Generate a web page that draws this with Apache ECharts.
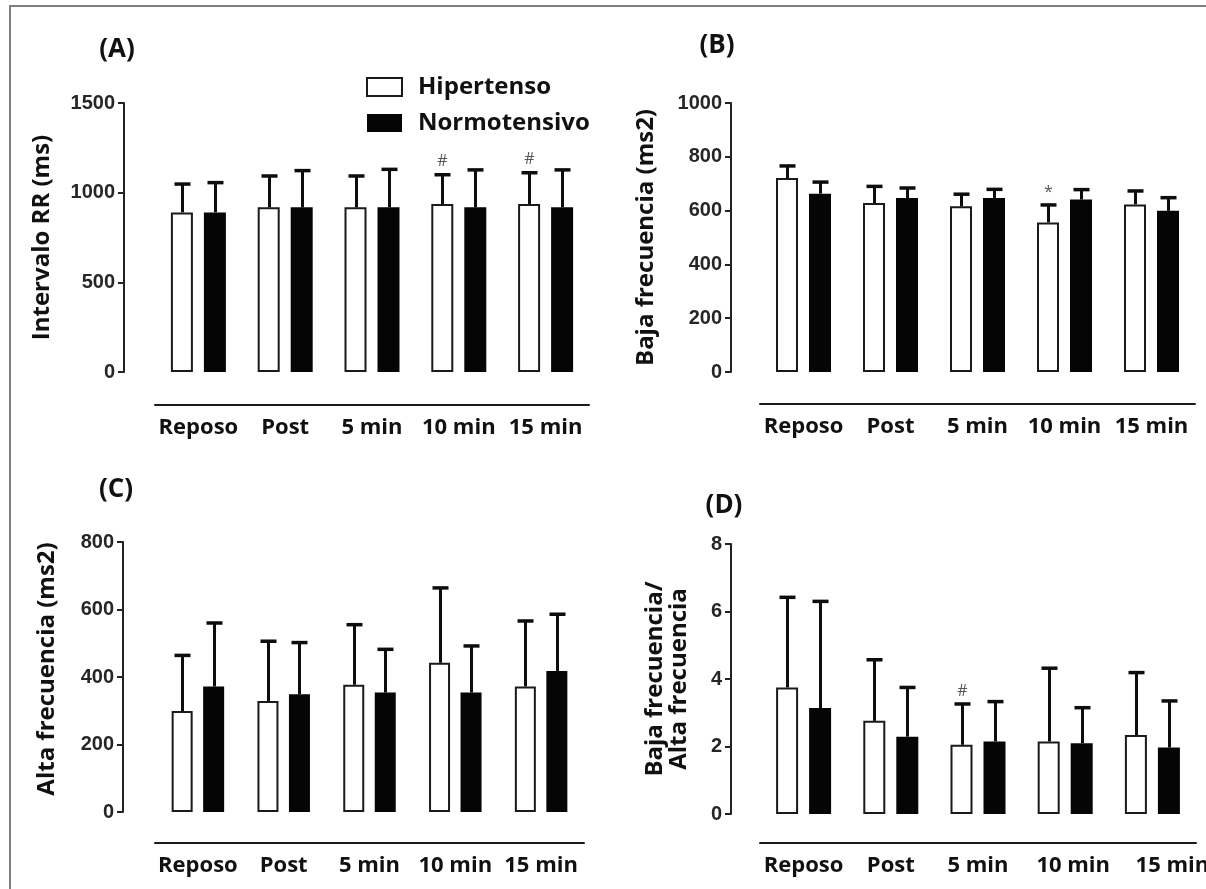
<!DOCTYPE html>
<html>
<head>
<meta charset="utf-8">
<title>Variabilidad de la frecuencia cardiaca</title>
<script src="https://cdn.jsdelivr.net/npm/echarts@6/dist/echarts.min.js"></script>
<style>
  html, body { margin: 0; padding: 0; background: #ffffff; }
  #chart { width: 1206px; height: 889px; }
</style>
</head>
<body>
<div id="chart"></div>
<script>
// Time points and groups
const categories = ['Reposo', 'Post', '5 min', '10 min', '15 min'];
const groupNames = ['Hipertenso', 'Normotensivo'];

// (A) Intervalo RR (ms): means and upper SD
const rrHip = [890, 918, 918, 937, 937];
const rrHipSd = [158, 175, 175, 163, 174];
const rrNorm = [890, 918, 918, 918, 918];
const rrNormSd = [166, 205, 212, 209, 209];
const rrHipMarks = ['', '', '', '#', '#'];

// (B) Baja frecuencia (ms2)
const lfHip = [721, 628, 616, 556, 623];
const lfHipSd = [45, 62, 45, 65, 50];
const lfNorm = [663, 647, 647, 641, 599];
const lfNormSd = [43, 37, 32, 37, 49];
const lfHipMarks = ['', '', '', '*', ''];

// (C) Alta frecuencia (ms2)
const hfHip = [299, 329, 377, 442, 372];
const hfHipSd = [165, 177, 178, 222, 194];
const hfNorm = [372, 349, 354, 354, 418];
const hfNormSd = [188, 153, 128, 138, 168];

// (D) Baja frecuencia / Alta frecuencia
const ratioHip = [3.75, 2.76, 2.05, 2.15, 2.34];
const ratioHipSd = [2.67, 1.81, 1.21, 2.17, 1.85];
const ratioNorm = [3.14, 2.29, 2.15, 2.10, 1.97];
const ratioNormSd = [3.16, 1.46, 1.18, 1.05, 1.38];
const ratioHipMarks = ['', '', '#', '', ''];

// Y axis scales
const yMax = [1500, 1000, 800, 8];
const yStep = [500, 200, 200, 2];
const yNames = ['Intervalo RR (ms)', 'Baja frecuencia (ms2)', 'Alta frecuencia (ms2)', 'Baja frecuencia/\nAlta frecuencia'];
const panelTags = ['(A)', '(B)', '(C)', '(D)'];

const panels = [
  { hip: rrHip, hipSd: rrHipSd, norm: rrNorm, normSd: rrNormSd, marks: rrHipMarks },
  { hip: lfHip, hipSd: lfHipSd, norm: lfNorm, normSd: lfNormSd, marks: lfHipMarks },
  { hip: hfHip, hipSd: hfHipSd, norm: hfNorm, normSd: hfNormSd, marks: null },
  { hip: ratioHip, hipSd: ratioHipSd, norm: ratioNorm, normSd: ratioNormSd, marks: ratioHipMarks }
];

// Layout of the four plots (GraphPad-style detached axes)
const layout = [
  { left: 155, top: 103, width: 434, height: 269, yOff: 31, xOff: 33, nameGap: 70, namePad: [0, 0, 0, 0], barW: 22, tag: [117, 50], shiftLabels: false },
  { left: 760, top: 103, width: 435, height: 269, yOff: 29, xOff: 32, nameGap: 73, namePad: [0, 0, 0, 0], barW: 22, tag: [717, 46], shiftLabels: false },
  { left: 155, top: 542, width: 429, height: 270, yOff: 32, xOff: 31, nameGap: 64, namePad: [0, 0, 0, 16], barW: 21, tag: [116, 490], shiftLabels: false },
  { left: 760, top: 544, width: 436, height: 270, yOff: 29, xOff: 29, nameGap: 40, namePad: [0, 0, 0, 0], barW: 22, tag: [724, 506], shiftLabels: true }
];

const INK = '#0d0d0d';
const labelFont = '"Open Sans", "DejaVu Sans", sans-serif';
const tickFont = '"Liberation Sans", Arial, sans-serif';

// Upper-only error bar with cap, optional significance mark above it
function errorBars(shift, marks) {
  return function (params, api) {
    const i = api.value(0);
    const m = api.value(1);
    const e = api.value(2);
    const p0 = api.coord([i, m]);
    const p1 = api.coord([i, m + e]);
    const x = Math.round(p0[0] + shift) + 0.5;
    const children = [
      { type: 'line', shape: { x1: x, y1: p0[1], x2: x, y2: p1[1] },
        style: { stroke: INK, lineWidth: 3 } },
      { type: 'line', shape: { x1: x - 8, y1: p1[1], x2: x + 8, y2: p1[1] },
        style: { stroke: INK, lineWidth: 3.5 } }
    ];
    const mark = marks ? marks[params.dataIndex] : '';
    if (mark) {
      children.push({
        type: 'text',
        style: { text: mark, x: x, y: p1[1] - 5, align: 'center', verticalAlign: 'bottom',
                 font: '16px ' + labelFont, fill: '#555555' }
      });
    }
    return { type: 'group', children: children };
  };
}

// Category labels of the ratio plot sit a little right of their ticks
const labelPad = { '10 min': 16, '15 min': 40 };
function shiftedLabel(value) {
  return labelPad[value] ? '{p' + labelPad[value] + '|' + value + '}' : value;
}
const shiftedRich = {};
Object.keys(labelPad).forEach(function (key) {
  shiftedRich['p' + labelPad[key]] = {
    padding: [0, 0, 0, labelPad[key]], color: '#111111',
    fontFamily: labelFont, fontWeight: 700, fontSize: 22
  };
});

const grids = [], xAxes = [], yAxes = [], series = [], errSeries = [], graphics = [];

panels.forEach(function (p, k) {
  const L = layout[k];
  const shift = (L.barW * 1.5) / 2;
  grids.push({ left: L.left, top: L.top, width: L.width, height: L.height,
               containLabel: false, outerBoundsMode: 'none' });
  const xLabel = { margin: 12, color: '#111111', fontFamily: labelFont, fontWeight: 700, fontSize: 22, interval: 0 };
  if (L.shiftLabels) {
    xLabel.formatter = shiftedLabel;
    xLabel.rich = shiftedRich;
  }
  xAxes.push({
    type: 'category', gridIndex: k, data: categories, offset: L.xOff,
    axisLine: { onZero: false, lineStyle: { color: '#1a1a1a', width: 2 } },
    axisTick: { alignWithLabel: true, length: 6, lineStyle: { color: '#1a1a1a', width: 2 } },
    axisLabel: xLabel,
    splitLine: { show: false }
  });
  yAxes.push({
    type: 'value', gridIndex: k, min: 0, max: yMax[k], interval: yStep[k], offset: L.yOff,
    name: yNames[k], nameLocation: 'middle', nameGap: L.nameGap, nameRotate: 90,
    nameTextStyle: { color: '#111111', fontFamily: labelFont, fontWeight: 700, fontSize: 24, lineHeight: 24,
                     padding: L.namePad },
    axisLine: { show: true, onZero: false, lineStyle: { color: '#222222', width: 2 } },
    axisTick: { show: true, length: 6, lineStyle: { color: '#222222', width: 2 } },
    axisLabel: { margin: 9, color: '#262626', fontFamily: tickFont, fontWeight: 700, fontSize: 20,
                 formatter: function (v) { return String(v); } },
    splitLine: { show: false }
  });
  series.push({
    name: groupNames[0], type: 'bar', xAxisIndex: k, yAxisIndex: k,
    data: p.hip, barWidth: L.barW, barGap: '50%',
    itemStyle: { color: '#ffffff', borderColor: '#1a1a1a', borderWidth: 2 }
  });
  series.push({
    name: groupNames[1], type: 'bar', xAxisIndex: k, yAxisIndex: k,
    data: p.norm, barWidth: L.barW, barGap: '50%',
    itemStyle: { color: '#050505' }
  });
  errSeries.push({
    name: groupNames[0], type: 'custom', xAxisIndex: k, yAxisIndex: k, z: 5,
    renderItem: errorBars(-shift, p.marks), encode: { x: 0, y: 1 },
    data: p.hip.map(function (v, i) { return [i, v, p.hipSd[i]]; })
  });
  errSeries.push({
    name: groupNames[1], type: 'custom', xAxisIndex: k, yAxisIndex: k, z: 5,
    renderItem: errorBars(shift, null), encode: { x: 0, y: 1 },
    data: p.norm.map(function (v, i) { return [i, v, p.normSd[i]]; })
  });
  graphics.push({
    type: 'text', x: L.tag[0], y: L.tag[1],
    style: { text: panelTags[k], align: 'center', verticalAlign: 'middle',
             font: '700 26px ' + labelFont, fill: '#111111' }
  });
});

// Figure frame
graphics.unshift({
  type: 'rect', shape: { x: 10, y: 6, width: 1400, height: 1000 },
  style: { fill: 'none', stroke: '#808080', lineWidth: 2 }, silent: true, z: -1
});

const chart = echarts.init(document.getElementById('chart'), null, { renderer: 'canvas' });
chart.setOption({
  backgroundColor: '#ffffff',
  animation: false,
  grid: grids,
  xAxis: xAxes,
  yAxis: yAxes,
  legend: {
    data: groupNames, orient: 'vertical', left: 366, top: 75, padding: 0,
    itemWidth: 35, itemHeight: 18, itemGap: 12, icon: 'rect',
    textStyle: { color: '#111111', fontFamily: labelFont, fontWeight: 700, fontSize: 24,
                 lineHeight: 24, padding: [0, 0, 0, 11] }
  },
  graphic: graphics,
  series: series.concat(errSeries)
});
</script>
</body>
</html>
